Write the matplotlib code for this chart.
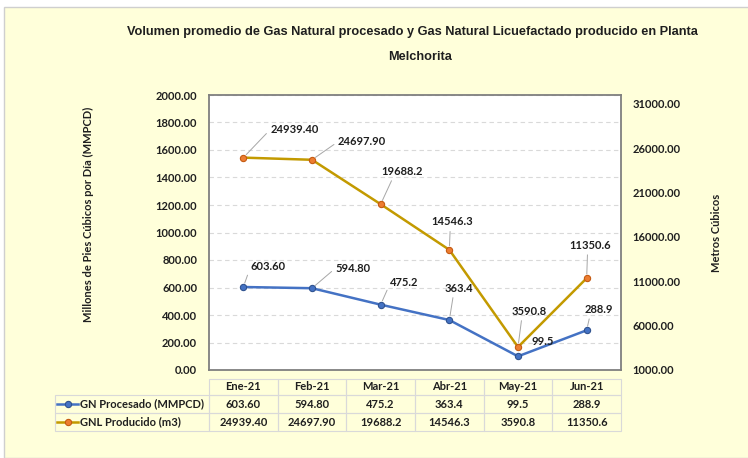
import matplotlib
matplotlib.use('Agg')
import matplotlib.pyplot as plt
from matplotlib.table import Table
from matplotlib.patches import Rectangle
from matplotlib.ticker import FormatStrFormatter, MultipleLocator

# datos
months = ['Ene-21', 'Feb-21', 'Mar-21', 'Abr-21', 'May-21', 'Jun-21']
gn_procesado = [603.60, 594.80, 475.2, 363.4, 99.5, 288.9]
gnl_producido = [24939.40, 24697.90, 19688.2, 14546.3, 3590.8, 11350.6]
gn_labels = ['603.60', '594.80', '475.2', '363.4', '99.5', '288.9']
gnl_labels = ['24939.40', '24697.90', '19688.2', '14546.3', '3590.8', '11350.6']
series_names = ['GN Procesado (MMPCD)', 'GNL Producido (m3)']

title1 = 'Volumen promedio de Gas Natural procesado y Gas Natural Licuefactado producido en Planta'
title2 = 'Melchorita'

# posiciones de etiquetas (pixeles) y punto de union de la linea guia
gn_off = [(25, 21, (0, 0.5)), (41, 20, (0, 0.5)), (24, 22, (0, 0.5)),
          (10, 32, (0.3, 0)), (25, 15, None), (12, 21, (0.2, 0))]
gnl_off = [(51, 28, (0, 0.5)), (50, 18, (0, 0.5)), (21, 33, (0.3, 0)),
           (3, 28, (0.45, 0)), (11, 36, (0.3, 0)), (3, 33, (0.45, 0))]

blue = '#4472C4'
gold = '#C39A00'
orange = '#ED7D31'
yellow_bg = '#FFFFDA'
grid_c = '#D9D9D9'
txt_c = '#1F1F1F'

plt.rcParams['font.family'] = ['Lato', 'DejaVu Sans']

W, H = 748, 458
fig = plt.figure(figsize=(W / 100, H / 100), dpi=100, facecolor='white')


def fx(px):
    return px / W


def fy(py):
    return 1 - py / H


fig.patches.append(Rectangle((fx(4), 0), 1, fy(7), transform=fig.transFigure,
                             facecolor=yellow_bg, edgecolor='#CFCFCF', lw=1, zorder=-10))

ax_l, ax_t, ax_r, ax_b = 209, 95, 621, 370
ax_w, ax_h = ax_r - ax_l, ax_b - ax_t
ax = fig.add_axes([fx(ax_l), fy(ax_b), ax_w / W, ax_h / H])
ax2 = ax.twinx()

x = list(range(len(months)))
ax.plot(x, gn_procesado, color=blue, lw=1.8, marker='o', ms=4.5,
        mfc=blue, mec='#2F528F', mew=0.8, zorder=3)
ax2.plot(x, gnl_producido, color=gold, lw=1.8, marker='o', ms=4.5,
         mfc=orange, mec='#C55A11', mew=0.8, zorder=3)

ax.set_xlim(-0.5, 5.5)
ax.set_ylim(0, 2000)
ax.yaxis.set_major_locator(MultipleLocator(200))
ax.yaxis.set_major_formatter(FormatStrFormatter('%.2f'))
ax2.set_ylim(1000, 32000)
ax2.set_yticks(range(1000, 31001, 5000))
ax2.yaxis.set_major_formatter(FormatStrFormatter('%.2f'))
ax.set_xticks([])

ax.grid(axis='y', color=grid_c, ls=(0, (4, 3)), lw=0.8)
ax.set_axisbelow(True)
ax.tick_params(axis='y', length=0, pad=8.5, labelsize=8, labelcolor=txt_c)
ax2.tick_params(axis='y', length=0, pad=8.5, labelsize=8, labelcolor=txt_c)
for lab in ax.get_yticklabels() + ax2.get_yticklabels():
    lab.set_fontweight('bold')

for s in ax.spines.values():
    s.set_color('#7F7F7F')
    s.set_linewidth(1.3)
for s in ax2.spines.values():
    s.set_visible(False)
ax.set_facecolor('white')

# etiquetas de datos
lab_kw = dict(textcoords='offset pixels', ha='center', va='center',
              fontsize=8, fontweight='bold', color=txt_c, zorder=5)
for i, t in enumerate(gn_labels):
    dx, dy, rp = gn_off[i]
    ap = None if rp is None else dict(arrowstyle='-', color='#A6A6A6', lw=0.7,
                                     shrinkA=1, shrinkB=3, relpos=rp)
    ax.annotate(t, xy=(i, gn_procesado[i]), xytext=(dx, dy), arrowprops=ap, **lab_kw)
for i, t in enumerate(gnl_labels):
    dx, dy, rp = gnl_off[i]
    ap = dict(arrowstyle='-', color='#A6A6A6', lw=0.7, shrinkA=1, shrinkB=3, relpos=rp)
    ax2.annotate(t, xy=(i, gnl_producido[i]), xytext=(dx, dy), arrowprops=ap, **lab_kw)

# tabla de datos (tamanos en coordenadas del eje)
row_px = [16, 18, 18]
tab_top, tab_bot = 379, 431
tab = Table(ax, bbox=[0, (ax_b - tab_bot) / ax_h, 1, (tab_bot - tab_top) / ax_h])
cw = 1 / 6
for j, m in enumerate(months):
    tab.add_cell(0, j, width=cw, height=row_px[0] / ax_h, text=m, loc='center',
                 facecolor='none', edgecolor=grid_c)
for r, (name, vals) in enumerate(zip(series_names, [gn_labels, gnl_labels]), start=1):
    c = tab.add_cell(r, -1, width=(ax_l - 55) / ax_w, height=row_px[r] / ax_h,
                     text=name, loc='left', facecolor='none', edgecolor=grid_c)
    c.PAD = (80 - 55) / (ax_l - 55)
    for j, v in enumerate(vals):
        tab.add_cell(r, j, width=cw, height=row_px[r] / ax_h, text=v, loc='center',
                     facecolor='none', edgecolor=grid_c)
tab.auto_set_font_size(False)
tab.set_fontsize(8)
for cell in tab.get_celld().values():
    cell.get_text().set_fontweight('bold')
    cell.get_text().set_color(txt_c)
    cell.set_linewidth(0.8)
    cell.set_clip_on(False)
ax.add_table(tab)

# muestras de leyenda en la tabla
for py, col, mfc, mec in [(404, blue, blue, '#2F528F'), (422, gold, orange, '#C55A11')]:
    fig.add_artist(plt.Line2D([fx(57), fx(78)], [fy(py), fy(py)], color=col, lw=1.8,
                              transform=fig.transFigure))
    fig.add_artist(plt.Line2D([fx(67.5)], [fy(py)], marker='o', ms=4.5, mfc=mfc,
                              mec=mec, mew=0.8, transform=fig.transFigure))

# titulos
tkw = dict(ha='center', va='center', fontsize=9.2, fontweight='bold',
           family=['Liberation Sans', 'DejaVu Sans'], color=txt_c)
fig.text(fx(412), fy(32), title1, **tkw)
fig.text(fx(420), fy(57), title2, **tkw)

fig.text(fx(88), fy(214), 'Millones de Pies Cúbicos por Día (MMPCD)', rotation=90,
         ha='center', va='center', fontsize=8, fontweight='bold', color=txt_c)
fig.text(fx(717), fy(233), 'Metros Cúbicos', rotation=90,
         ha='center', va='center', fontsize=8, fontweight='bold', color=txt_c)

fig.savefig('out.png', dpi=100, facecolor=fig.get_facecolor())
